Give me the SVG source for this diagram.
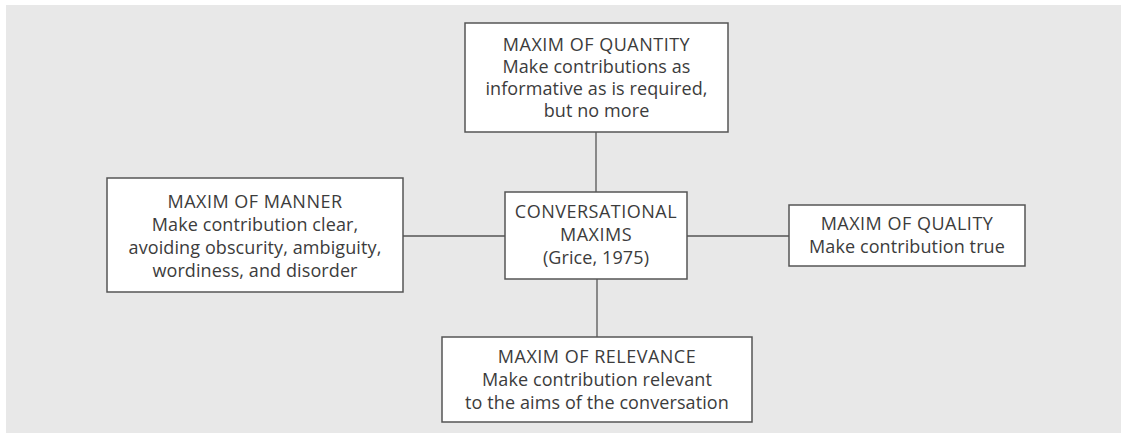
<svg xmlns="http://www.w3.org/2000/svg" width="1121" height="436" viewBox="0 0 1121 436">
<style>
.box{fill:#fff;stroke:#555;stroke-width:1.5}
.t{font-family:"Open Sans","Noto Sans",sans-serif;font-size:18px;fill:#3c3c3c;text-anchor:middle;letter-spacing:0.1px}
.h{letter-spacing:0.5px}
.c{stroke:#555;stroke-width:1.3;fill:none}
</style>
<rect x="0" y="0" width="1121" height="436" fill="#fff"/>
<rect x="6" y="5" width="1115" height="428" fill="#e8e8e8"/>
<g id="connectors">
<line class="c" x1="596" y1="132" x2="596" y2="192"/>
<line class="c" x1="403" y1="236" x2="505" y2="236"/>
<line class="c" x1="687" y1="236" x2="789" y2="236"/>
<line class="c" x1="597" y1="279" x2="597" y2="337"/>
</g>
<g id="quantity">
<rect class="box" x="465" y="23" width="263" height="109"/>
<text class="t"><tspan class="h" x="596.5" y="51">MAXIM OF QUANTITY</tspan><tspan x="596.5" y="73">Make contributions as</tspan><tspan x="596.5" y="95">informative as is required,</tspan><tspan x="596.5" y="117">but no more</tspan></text>
</g>
<g id="manner">
<rect class="box" x="107" y="178" width="296" height="114"/>
<text class="t"><tspan class="h" x="255" y="208">MAXIM OF MANNER</tspan><tspan x="255" y="231">Make contribution clear,</tspan><tspan x="255" y="254">avoiding obscurity, ambiguity,</tspan><tspan x="255" y="277">wordiness, and disorder</tspan></text>
</g>
<g id="center">
<rect class="box" x="505" y="192" width="182" height="87"/>
<text class="t"><tspan class="h" x="596" y="218">CONVERSATIONAL</tspan><tspan class="h" x="596" y="241">MAXIMS</tspan><tspan x="596" y="264">(Grice, 1975)</tspan></text>
</g>
<g id="quality">
<rect class="box" x="789" y="205" width="236" height="61"/>
<text class="t"><tspan class="h" x="907" y="230">MAXIM OF QUALITY</tspan><tspan x="907" y="253">Make contribution true</tspan></text>
</g>
<g id="relevance">
<rect class="box" x="442" y="337" width="310" height="85"/>
<text class="t"><tspan class="h" x="597" y="363">MAXIM OF RELEVANCE</tspan><tspan x="597" y="386">Make contribution relevant</tspan><tspan x="597" y="409">to the aims of the conversation</tspan></text>
</g>
</svg>
